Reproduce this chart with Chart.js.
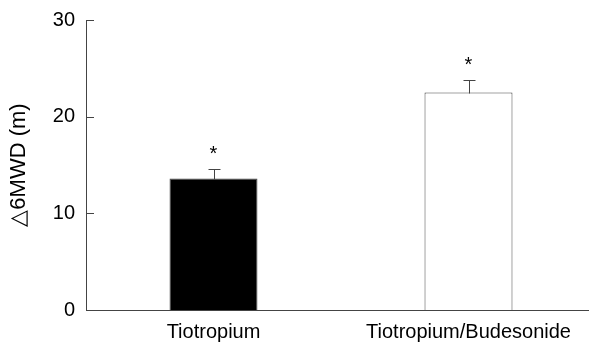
<!DOCTYPE html>
<html>
<head>
<meta charset="utf-8">
<script src="https://cdn.jsdelivr.net/npm/chart.js@4"></script>
<style>
  html, body { margin: 0; padding: 0; background: #fff; overflow: hidden; }
  #wrap { width: 600px; height: 343px; }
</style>
</head>
<body>
<div id="wrap"><canvas id="barchart" width="600" height="343"></canvas></div>
<script>
// données
const groupes = ['Tiotropium', 'Tiotropium/Budesonide'];
const moyennes = [13.6, 22.5];
const erreurs = [1.0, 1.3];
const etoiles = ['*', '*'];
const couleursBarres = ['#000000', '#ffffff'];
const yTicks = [0, 10, 20, 30];

const axisColor = '#444';
const police = '"Liberation Sans", Arial, sans-serif';

// barres d'erreur, étoiles et petits ticks vers l'intérieur
const errorBarsPlugin = {
    id: 'errorBars',
    afterDatasetsDraw(chart) {
        const ctx = chart.ctx;
        const meta = chart.getDatasetMeta(0);
        const y = chart.scales.y;
        ctx.save();
        ctx.strokeStyle = axisColor;
        ctx.lineWidth = 1;
        meta.data.forEach((bar, i) => {
            const x = Math.round(bar.x) + 0.5;
            const yTop = Math.round(y.getPixelForValue(moyennes[i])) + 0.5;
            const yCap = Math.round(y.getPixelForValue(moyennes[i] + erreurs[i])) + 0.5;
            ctx.beginPath();
            ctx.moveTo(x, yTop);
            ctx.lineTo(x, yCap);
            ctx.moveTo(x - 6, yCap);
            ctx.lineTo(x + 6, yCap);
            ctx.stroke();

            ctx.fillStyle = '#000';
            ctx.font = '20px ' + police;
            ctx.textAlign = 'center';
            ctx.textBaseline = 'alphabetic';
            ctx.fillText(etoiles[i], bar.x, yCap - 10);
        });
        // ticks de l'axe y
        const left = chart.chartArea.left;
        yTicks.forEach((t) => {
            const py = Math.round(y.getPixelForValue(t)) + 0.5;
            ctx.beginPath();
            ctx.moveTo(left, py);
            ctx.lineTo(left + 8, py);
            ctx.stroke();
        });
        ctx.restore();
    }
};

function createBarChart() {
    const ctx = document.getElementById('barchart');

    new Chart(ctx, {
        type: 'bar',
        data: {
            labels: groupes,
            datasets: [
                {
                    data: moyennes,
                    backgroundColor: couleursBarres,
                    borderColor: axisColor,
                    borderWidth: 1,
                    categoryPercentage: 1,
                    barPercentage: 0.345
                }
            ]
        },
        plugins: [errorBarsPlugin],
        options: {
            responsive: false,
            animation: false,
            layout: {
                padding: { top: 20, right: 4, left: 0, bottom: 0 }
            },
            scales: {
                x: {
                    grid: { display: false },
                    border: { display: true, color: axisColor, width: 1 },
                    ticks: {
                        color: '#000',
                        padding: 2,
                        font: { family: police, size: 20 }
                    },
                    afterFit(scale) { scale.height = 33; }
                },
                y: {
                    min: 0,
                    max: 30,
                    grid: { display: false },
                    border: { display: true, color: axisColor, width: 1 },
                    ticks: {
                        stepSize: 10,
                        color: '#000',
                        padding: 3,
                        font: { family: police, size: 20 }
                    },
                    title: {
                        display: true,
                        text: '\u25B36MWD (m)',
                        color: '#000',
                        padding: { top: 6, bottom: 0 },
                        font: { family: police, size: 22 }
                    },
                    afterFit(scale) { scale.width = 86; }
                }
            },
            plugins: {
                legend: { display: false },
                tooltip: { enabled: false },
                title: { display: false }
            }
        }
    });
}

createBarChart();
</script>
</body>
</html>
